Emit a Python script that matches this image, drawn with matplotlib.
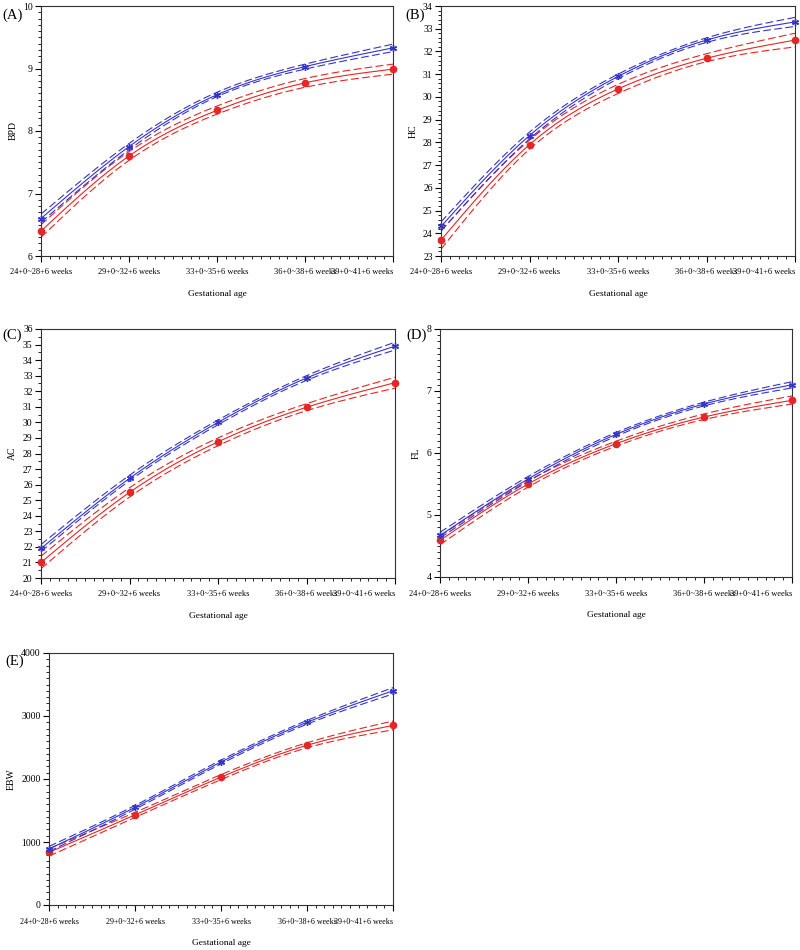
import matplotlib
matplotlib.use('Agg')
import matplotlib.pyplot as plt
from matplotlib.ticker import MultipleLocator
import matplotlib.transforms as mtransforms
import numpy as np

plt.rcParams['font.family'] = ['Liberation Serif', 'DejaVu Serif']

# Gestational age groups (x axis)
age_groups = ['24+0~28+6 weeks', '29+0~32+6 weeks', '33+0~35+6 weeks',
              '36+0~38+6 weeks', '39+0~41+6 weeks']

# BPD
bpd_blue = [6.60, 7.75, 8.58, 9.03, 9.33]
bpd_blue_lo = [6.54, 7.70, 8.55, 8.99, 9.27]
bpd_blue_hi = [6.67, 7.80, 8.62, 9.07, 9.39]
bpd_red = [6.40, 7.60, 8.33, 8.77, 8.99]
bpd_red_lo = [6.30, 7.53, 8.27, 8.70, 8.91]
bpd_red_hi = [6.50, 7.67, 8.40, 8.84, 9.07]

# HC
hc_blue = [24.3, 28.3, 30.9, 32.5, 33.3]
hc_blue_lo = [24.1, 28.15, 30.8, 32.4, 33.1]
hc_blue_hi = [24.5, 28.45, 31.0, 32.6, 33.5]
hc_red = [23.7, 27.9, 30.35, 31.7, 32.5]
hc_red_lo = [23.3, 27.7, 30.15, 31.55, 32.2]
hc_red_hi = [24.1, 28.1, 30.55, 31.9, 32.8]

# AC
ac_blue = [21.9, 26.4, 30.0, 32.85, 34.9]
ac_blue_lo = [21.7, 26.25, 29.85, 32.7, 34.65]
ac_blue_hi = [22.15, 26.6, 30.15, 33.0, 35.15]
ac_red = [21.0, 25.5, 28.75, 30.97, 32.55]
ac_red_lo = [20.6, 25.2, 28.5, 30.75, 32.2]
ac_red_hi = [21.4, 25.8, 29.0, 31.2, 32.9]

# FL
fl_blue = [4.67, 5.58, 6.30, 6.79, 7.10]
fl_blue_lo = [4.63, 5.54, 6.27, 6.76, 7.05]
fl_blue_hi = [4.72, 5.62, 6.33, 6.82, 7.15]
fl_red = [4.59, 5.50, 6.15, 6.58, 6.85]
fl_red_lo = [4.52, 5.45, 6.11, 6.54, 6.79]
fl_red_hi = [4.66, 5.55, 6.19, 6.63, 6.92]

# EBW
ebw_blue = [890, 1550, 2270, 2900, 3400]
ebw_blue_lo = [850, 1520, 2240, 2870, 3350]
ebw_blue_hi = [930, 1580, 2300, 2930, 3450]
ebw_red = [835, 1430, 2030, 2535, 2850]
ebw_red_lo = [775, 1390, 1990, 2495, 2780]
ebw_red_hi = [895, 1470, 2070, 2575, 2920]

BLUE = '#3434cc'
RED = '#e42626'


def smooth(xs, ys, n=200):
    # natural cubic spline through the points, for drawing only
    xs = np.asarray(xs, float)
    ys = np.asarray(ys, float)
    m = len(xs)
    h = np.diff(xs)
    A = np.zeros((m, m))
    b = np.zeros(m)
    A[0, 0] = A[-1, -1] = 1
    for i in range(1, m - 1):
        A[i, i - 1] = h[i - 1]
        A[i, i] = 2 * (h[i - 1] + h[i])
        A[i, i + 1] = h[i]
        b[i] = 6 * ((ys[i + 1] - ys[i]) / h[i] - (ys[i] - ys[i - 1]) / h[i - 1])
    M = np.linalg.solve(A, b)
    xx = np.linspace(xs[0], xs[-1], n)
    idx = np.clip(np.searchsorted(xs, xx) - 1, 0, m - 2)
    x0, x1 = xs[idx], xs[idx + 1]
    hh = x1 - x0
    t0, t1 = x1 - xx, xx - x0
    yy = (M[idx] * t0 ** 3 / (6 * hh) + M[idx + 1] * t1 ** 3 / (6 * hh)
          + (ys[idx] / hh - M[idx] * hh / 6) * t0
          + (ys[idx + 1] / hh - M[idx + 1] * hh / 6) * t1)
    return xx, yy


fig = plt.figure(figsize=(8, 9.5), dpi=100)
W, H = 800.0, 950.0


def add_axes(l, t, r, b):
    return fig.add_axes([l / W, 1 - b / H, (r - l) / W, (b - t) / H])


panels = [
    # letter, letter pos (px), ylabel, ylim, major, minor, box(l,t,r,b), tick font, data
    ('(A)', (2, 15), 'BPD', (6, 10), 1, 0.1, (41, 6, 393, 256), 6.0,
     (bpd_blue, bpd_blue_lo, bpd_blue_hi, bpd_red, bpd_red_lo, bpd_red_hi)),
    ('(B)', (405, 15), 'HC', (23, 34), 1, 0.2, (441, 6, 795, 256), 6.0,
     (hc_blue, hc_blue_lo, hc_blue_hi, hc_red, hc_red_lo, hc_red_hi)),
    ('(C)', (2, 335), 'AC', (20, 36), 1, 0.5, (41, 329, 395, 578), 6.0,
     (ac_blue, ac_blue_lo, ac_blue_hi, ac_red, ac_red_lo, ac_red_hi)),
    ('(D)', (406, 335), 'FL', (4, 8), 1, 0.1, (440, 329, 792, 577), 6.0,
     (fl_blue, fl_blue_lo, fl_blue_hi, fl_red, fl_red_lo, fl_red_hi)),
    ('(E)', (5, 661), 'EBW', (0, 4000), 1000, 100, (49, 653, 393, 905), 5.8,
     (ebw_blue, ebw_blue_lo, ebw_blue_hi, ebw_red, ebw_red_lo, ebw_red_hi)),
]

x = np.arange(len(age_groups))

for letter, lpos, ylab, ylim, major, minor, box, tfs, data in panels:
    ax = add_axes(*box)
    b_mid, b_lo, b_hi, r_mid, r_lo, r_hi = data

    for mid, lo, hi, col in ((r_mid, r_lo, r_hi, RED), (b_mid, b_lo, b_hi, BLUE)):
        ax.plot(*smooth(x, mid), color=col, lw=0.8)
        ax.plot(*smooth(x, lo), color=col, lw=0.8, dashes=(7, 3))
        ax.plot(*smooth(x, hi), color=col, lw=0.8, dashes=(7, 3))

    ax.plot(x, r_mid, 'o', color=RED, ms=4.5, clip_on=False, zorder=5)
    ax.plot(x, b_mid, marker=(6, 2, 0), ls='none', color=BLUE, ms=5,
            mew=1.0, clip_on=False, zorder=6)

    ax.set_xlim(0, 4)
    ax.set_ylim(*ylim)
    ax.set_xticks(x)
    ax.set_xticklabels(age_groups, fontsize=tfs)
    # last label pushed inside the axis end, as in the original
    last = ax.get_xticklabels()[-1]
    last.set_ha('right')
    shift = 4 if tfs >= 6 else 6
    last.set_transform(last.get_transform() +
                       mtransforms.ScaledTranslation(shift / 100, 0, fig.dpi_scale_trans))
    ax.xaxis.set_minor_locator(MultipleLocator(0.1))
    ax.yaxis.set_major_locator(MultipleLocator(major))
    ax.yaxis.set_minor_locator(MultipleLocator(minor))
    ax.tick_params(axis='both', which='major', length=4, width=0.8, pad=2)
    ax.tick_params(axis='y', which='major', labelsize=7)
    ax.tick_params(axis='both', which='minor', length=2, width=0.6)
    ax.tick_params(axis='x', which='major', pad=5)
    for s in ax.spines.values():
        s.set_linewidth(0.8)
        s.set_color('#333333')

    ax.set_ylabel(ylab, fontsize=7, labelpad=4)
    ax.set_xlabel('Gestational age', fontsize=6.8, labelpad=10)
    fig.text(lpos[0] / W, 1 - lpos[1] / H, letter, fontsize=10.5,
             ha='left', va='center')

fig.savefig('out.png', dpi=100)
